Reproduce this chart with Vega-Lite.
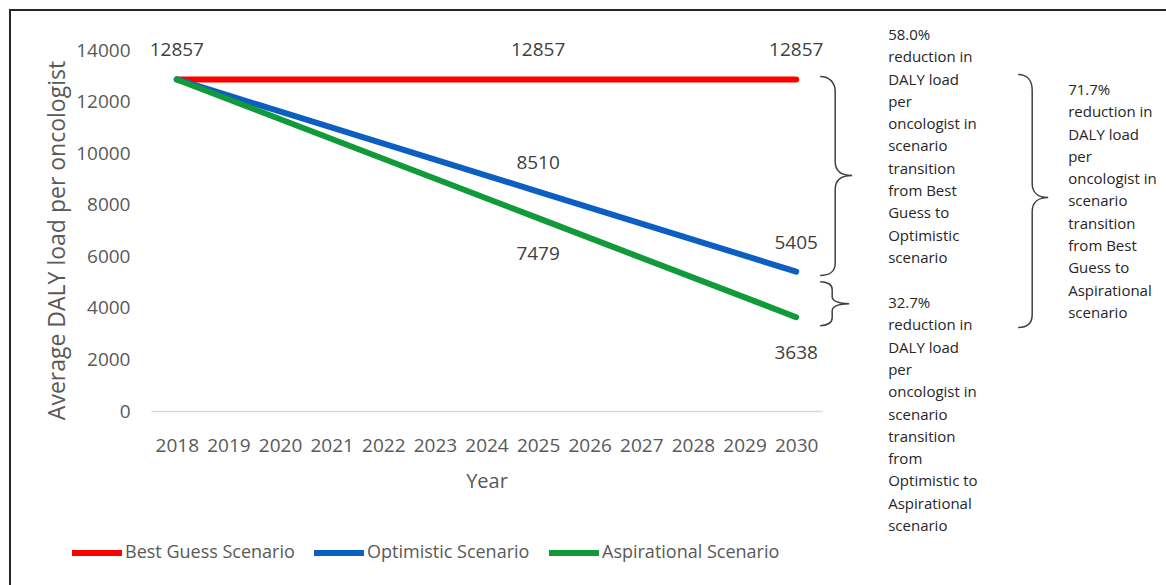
{
  "$schema": "https://vega.github.io/schema/vega-lite/v6.json",
  "width": 1160,
  "height": 580,
  "autosize": {"type": "none"},
  "padding": {"left": 10, "top": 10, "right": -4, "bottom": -5},
  "background": "#ffffff",
  "config": {
    "view": {"stroke": "#262626", "strokeWidth": 2},
    "font": "Open Sans"
  },
  "datasets": {
    "series": [
      {"scenario": "Best Guess Scenario", "year": 2018, "value": 12857},
      {"scenario": "Best Guess Scenario", "year": 2025, "value": 12857},
      {"scenario": "Best Guess Scenario", "year": 2030, "value": 12857},
      {"scenario": "Optimistic Scenario", "year": 2018, "value": 12857},
      {"scenario": "Optimistic Scenario", "year": 2025, "value": 8510},
      {"scenario": "Optimistic Scenario", "year": 2030, "value": 5405},
      {"scenario": "Aspirational Scenario", "year": 2018, "value": 12857},
      {"scenario": "Aspirational Scenario", "year": 2025, "value": 7479},
      {"scenario": "Aspirational Scenario", "year": 2030, "value": 3638}
    ],
    "notes": [
      {"id": "best-to-optimistic", "year": 2030, "value": 12857, "text": "58.0%\nreduction in\nDALY load\nper\noncologist in\nscenario\ntransition\nfrom Best\nGuess to\nOptimistic\nscenario"},
      {"id": "optimistic-to-aspirational", "year": 2030, "value": 5405, "text": "32.7%\nreduction in\nDALY load\nper\noncologist in\nscenario\ntransition\nfrom\nOptimistic to\nAspirational\nscenario"},
      {"id": "best-to-aspirational", "year": 2030, "value": 12857, "text": "71.7%\nreduction in\nDALY load\nper\noncologist in\nscenario\ntransition\nfrom Best\nGuess to\nAspirational\nscenario"}
    ]
  },
  "layer": [
    {
      "data": {"name": "series"},
      "mark": {"type": "line", "strokeWidth": 6, "strokeCap": "round", "strokeJoin": "round"},
      "encoding": {
        "x": {
          "field": "year",
          "type": "quantitative",
          "scale": {"domain": [2017.5, 2030.5], "range": [141, 812], "nice": false, "zero": false},
          "axis": {
            "title": "Year",
            "values": [2018, 2019, 2020, 2021, 2022, 2023, 2024, 2025, 2026, 2027, 2028, 2029, 2030],
            "format": "d",
            "offset": -179,
            "grid": false,
            "ticks": false,
            "labelFlush": false,
            "labelOverlap": false,
            "domainColor": "#d9d9d9",
            "domainWidth": 1.5,
            "labelFont": "Open Sans",
            "labelFontSize": 19,
            "labelColor": "#595959",
            "labelPadding": 25,
            "titleFont": "Open Sans",
            "titleFontSize": 20,
            "titleFontWeight": "normal",
            "titleColor": "#595959",
            "titleBaseline": "alphabetic",
            "titleY": 76
          }
        },
        "y": {
          "field": "value",
          "type": "quantitative",
          "scale": {"domain": [0, 14000], "range": [401, 40], "nice": false, "zero": true},
          "axis": {
            "title": "Average DALY load per oncologist",
            "values": [0, 2000, 4000, 6000, 8000, 10000, 12000, 14000],
            "format": "d",
            "offset": -141,
            "domain": false,
            "ticks": false,
            "grid": false,
            "labelFont": "Open Sans",
            "labelFontSize": 19,
            "labelColor": "#595959",
            "labelPadding": 21,
            "titleFont": "Open Sans",
            "titleFontSize": 23,
            "titleFontWeight": "normal",
            "titleColor": "#595959",
            "titleBaseline": "alphabetic",
            "titleX": -87,
            "titleY": 230
          }
        },
        "color": {
          "field": "scenario",
          "type": "nominal",
          "sort": null,
          "scale": {
            "domain": ["Best Guess Scenario", "Optimistic Scenario", "Aspirational Scenario"],
            "range": ["#ff0000", "#0b5ec2", "#119a3a"]
          },
          "legend": {
            "title": null,
            "orient": "none",
            "direction": "horizontal",
            "legendX": 59,
            "legendY": 515,
            "padding": 0,
            "symbolType": "stroke",
            "symbolSize": 2500,
            "symbolStrokeWidth": 6,
            "labelOffset": 0,
            "labelLimit": 0,
            "columnPadding": 7,
            "labelFont": "Open Sans",
            "labelFontSize": 18,
            "labelColor": "#595959"
          }
        }
      }
    },
    {
      "data": {"name": "series"},
      "transform": [{"filter": "datum.scenario !== 'Aspirational Scenario' && (datum.scenario === 'Best Guess Scenario' || datum.year > 2018)"}],
      "mark": {"type": "text", "dy": -29, "baseline": "middle", "align": "center", "font": "Open Sans", "fontSize": 19, "color": "#404040"},
      "encoding": {
        "x": {"field": "year", "type": "quantitative"},
        "y": {"field": "value", "type": "quantitative"},
        "text": {"field": "value", "type": "quantitative", "format": "d"}
      }
    },
    {
      "data": {"name": "series"},
      "transform": [{"filter": "datum.scenario === 'Aspirational Scenario' && datum.year > 2018"}],
      "mark": {"type": "text", "dy": 36, "baseline": "middle", "align": "center", "font": "Open Sans", "fontSize": 19, "color": "#404040"},
      "encoding": {
        "x": {"field": "year", "type": "quantitative"},
        "y": {"field": "value", "type": "quantitative"},
        "text": {"field": "value", "type": "quantitative", "format": "d"}
      }
    },
    {
      "data": {"name": "notes"},
      "transform": [{"filter": "datum.id === 'best-to-optimistic'"}],
      "mark": {"type": "point", "shape": "M24,-3 C33,-3 39,3 39,12 L39,82 C39,91 45,96 56,96 C45,96 39,101 39,110 L39,184 C39,192 33,196 24,196", "size": 4, "filled": false, "stroke": "#404040", "strokeWidth": 1.5, "opacity": 1},
      "encoding": {
        "x": {"field": "year", "type": "quantitative"},
        "y": {"field": "value", "type": "quantitative"}
      }
    },
    {
      "data": {"name": "notes"},
      "transform": [{"filter": "datum.id === 'optimistic-to-aspirational'"}],
      "mark": {"type": "point", "shape": "M24,10 C31,10 36,13 36,18 L36,25 C36,29 42,32 53,32 C42,32 36,35 36,39 L36,46 C36,51 31,54 24,54", "size": 4, "filled": false, "stroke": "#404040", "strokeWidth": 1.5, "opacity": 1},
      "encoding": {
        "x": {"field": "year", "type": "quantitative"},
        "y": {"field": "value", "type": "quantitative"}
      }
    },
    {
      "data": {"name": "notes"},
      "transform": [{"filter": "datum.id === 'best-to-aspirational'"}],
      "mark": {"type": "point", "shape": "M222,-5 C231,-5 236,1 236,11 L236,104 C236,113 242,118 252,118 C242,118 236,123 236,132 L236,235 C236,244 231,248 222,248", "size": 4, "filled": false, "stroke": "#404040", "strokeWidth": 1.5, "opacity": 1},
      "encoding": {
        "x": {"field": "year", "type": "quantitative"},
        "y": {"field": "value", "type": "quantitative"}
      }
    },
    {
      "data": {"name": "notes"},
      "transform": [{"filter": "datum.id === 'best-to-optimistic'"}],
      "mark": {"type": "text", "lineBreak": "\n", "lineHeight": 22.3, "align": "left", "baseline": "alphabetic", "dx": 92, "dy": -39.5, "font": "Open Sans", "fontSize": 15, "color": "#262626"},
      "encoding": {
        "x": {"field": "year", "type": "quantitative"},
        "y": {"field": "value", "type": "quantitative"},
        "text": {"field": "text", "type": "nominal"}
      }
    },
    {
      "data": {"name": "notes"},
      "transform": [{"filter": "datum.id === 'optimistic-to-aspirational'"}],
      "mark": {"type": "text", "lineBreak": "\n", "lineHeight": 22.3, "align": "left", "baseline": "alphabetic", "dx": 92, "dy": 36.4, "font": "Open Sans", "fontSize": 15, "color": "#262626"},
      "encoding": {
        "x": {"field": "year", "type": "quantitative"},
        "y": {"field": "value", "type": "quantitative"},
        "text": {"field": "text", "type": "nominal"}
      }
    },
    {
      "data": {"name": "notes"},
      "transform": [{"filter": "datum.id === 'best-to-aspirational'"}],
      "mark": {"type": "text", "lineBreak": "\n", "lineHeight": 22.3, "align": "left", "baseline": "alphabetic", "dx": 272, "dy": 15.5, "font": "Open Sans", "fontSize": 15, "color": "#262626"},
      "encoding": {
        "x": {"field": "year", "type": "quantitative"},
        "y": {"field": "value", "type": "quantitative"},
        "text": {"field": "text", "type": "nominal"}
      }
    }
  ]
}
